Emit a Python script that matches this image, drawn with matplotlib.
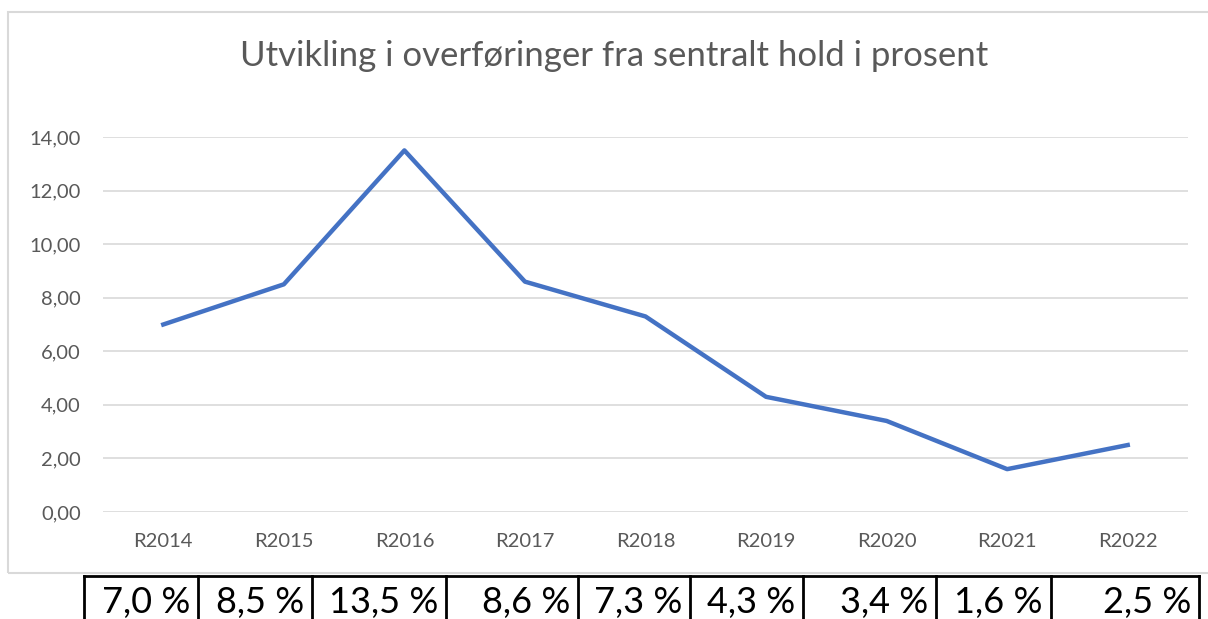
import matplotlib.pyplot as plt
from matplotlib.lines import Line2D
from matplotlib.patches import Rectangle

# data
kategorier = ['R2014', 'R2015', 'R2016', 'R2017', 'R2018', 'R2019', 'R2020', 'R2021', 'R2022']
prosent = [7.0, 8.5, 13.5, 8.6, 7.3, 4.3, 3.4, 1.6, 2.5]
tabell_tekst = ['7,0 %', '8,5 %', '13,5 %', '8,6 %', '7,3 %', '4,3 %', '3,4 %', '1,6 %', '2,5 %']
yticks = [0, 2, 4, 6, 8, 10, 12, 14]

W, H = 1208, 619
plt.rcParams['font.family'] = ['Lato', 'DejaVu Sans']
fig = plt.figure(figsize=(W / 100, H / 100), dpi=100)

def fx(px):
    return px / W

def fy(py):
    return 1 - py / H

# chart frame
fig.patches.append(Rectangle((fx(8), fy(573)), fx(1215) - fx(8), fy(12) - fy(573),
                             transform=fig.transFigure, fill=False,
                             edgecolor='#D9D9D9', linewidth=1.5))

ax = fig.add_axes([fx(103), fy(512), fx(1188) - fx(103), fy(137) - fy(512)])
x = list(range(len(kategorier)))
ax.plot(x, prosent, color='#4472C4', linewidth=3.2, clip_on=False, solid_joinstyle='round')
ax.set_xlim(-0.5, len(kategorier) - 0.5)
ax.set_ylim(0, 14)
ax.set_yticks(yticks)
ax.set_yticklabels([f'{v:.2f}'.replace('.', ',') for v in yticks])
ax.set_xticks(x)
ax.set_xticklabels(kategorier)
ax.grid(axis='y', color='#D9D9D9', linewidth=1.2)
ax.set_axisbelow(True)
for s in ax.spines.values():
    s.set_visible(False)
ax.tick_params(axis='both', length=0, labelsize=14.5, colors='#595959')
ax.tick_params(axis='y', pad=16)
ax.tick_params(axis='x', pad=15)

fig.text(fx(614), fy(56), 'Utvikling i overføringer fra sentralt hold i prosent',
         ha='center', va='center', fontsize=25, color='#595959')

# table row below the chart
kanter = [84, 198, 312, 446, 578, 690, 803, 936, 1051, 1199]
topp = 576
fig.add_artist(Line2D([fx(kanter[0]), fx(kanter[-1])], [fy(topp), fy(topp)],
                      color='black', linewidth=2))
for k in kanter:
    fig.add_artist(Line2D([fx(k), fx(k)], [fy(topp), fy(H + 5)],
                          color='black', linewidth=2))
for i, t in enumerate(tabell_tekst):
    fig.text(fx(kanter[i + 1] - 8), fy(603), t, ha='right', va='center',
             fontsize=26, color='black')

plt.savefig('out.png', dpi=100)
